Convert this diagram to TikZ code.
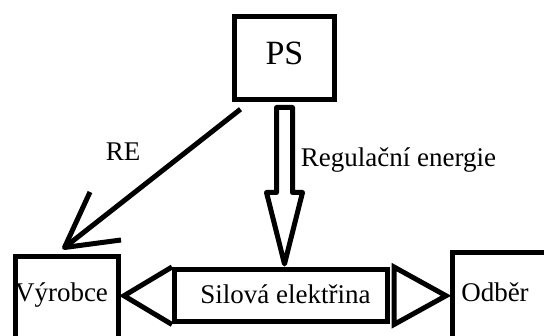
\documentclass[tikz,border=0pt]{standalone}
\usepackage{fontspec}
\setmainfont{Liberation Serif}
\usetikzlibrary{calc}
\begin{document}
\begin{tikzpicture}[x=1pt,y=-1pt,line width=5pt,
  box/.style={draw=black,line width=5pt,rectangle,inner sep=0pt},
  lbl/.style={font=\fontsize{27}{32}\selectfont,inner sep=0pt,anchor=base},
  conn/.style={draw=black,line width=5pt}]
\useasboundingbox (0,0) rectangle (544,336);
\clip (0,0) rectangle (544,336);
\fill[white] (0,0) rectangle (544,336);
% boxes
\node[box,minimum width=100pt,minimum height=83pt,text height=22pt,text depth=9pt,
      font=\fontsize{34}{40}\selectfont] (ps) at (284.5,58.5) {PS};
\node[box,minimum width=103pt,minimum height=140pt,anchor=north west] (vyr) at (12.5,254.5) {};
\node[lbl] (vyrt) at (61.5,302) {Výrobce};
\node[box,minimum width=140pt,minimum height=140pt,anchor=north west] (odb) at (449.5,250.5) {};
\node[lbl] (odbt) at (495,301.5) {Odběr};
\node[box,minimum width=213pt,minimum height=52.5pt] (sil) at (281,295.75) {};
\node[lbl] (silt) at (285.4,304) {Silová elektřina};
% labels
\node[lbl] (re) at (123,160.5) {RE};
\node[lbl,anchor=base west] (reg) at (298.4,166.5) {Regulační energie};
% triangles of the power line
\coordinate (ltip) at ($(vyr.north east |- sil.west)+(3.5,0)$);
\coordinate (rtip) at ($(odb.north west |- sil.east)+(-3.5,0)$);
\draw[conn,line join=miter] (sil.north west) -- (ltip) -- (sil.south west);
\draw[conn,line join=miter] ($(sil.north east)+(4,0)$) -- (rtip) -- ($(sil.south east)+(4,0)$) -- cycle;
% block arrow PS -> power line
\coordinate (btip) at ($(ps.south |- sil.north)+(0,-3)$);
\draw[conn,line join=round]
  ($(ps.south)+(-8,5)$) -- ($(ps.south)+(-8,90)$) -- ($(ps.south)+(-18,90)$) --
  (btip) -- ($(ps.south)+(18,90)$) -- ($(ps.south)+(8,90)$) --
  ($(ps.south)+(8,5)$) -- cycle;
% RE arrow PS -> Vyrobce
\coordinate (retip) at ($(vyr.north)+(-2,-7)$);
\coordinate (reb1) at (90,192);
\coordinate (reb2) at (121,240);
\draw[conn] ($(ps.south west)+(8.5,6.7)$) -- (retip);
\draw[conn,line join=round] (reb1) -- (retip) -- (reb2);
\end{tikzpicture}
\end{document}
